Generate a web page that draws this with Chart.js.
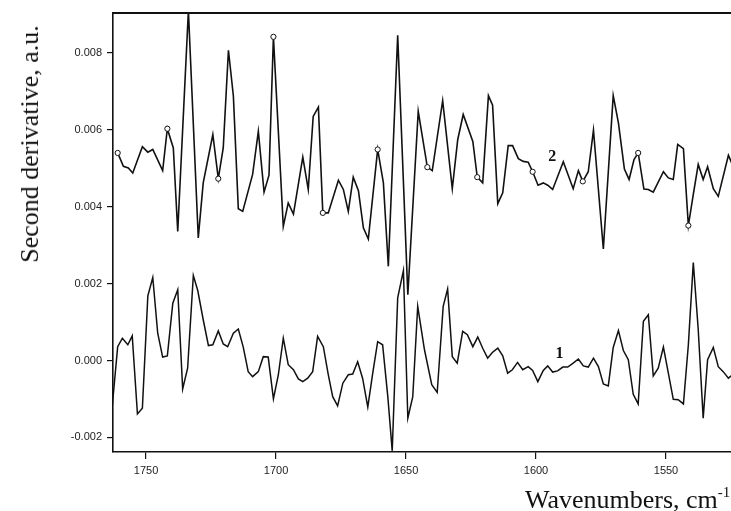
<!DOCTYPE html>
<html>
<head>
<meta charset="utf-8">
<script src="https://cdn.jsdelivr.net/npm/chart.js@4"></script>
<style>
    body { margin: 0; background: #fff; }
    #wrap { position: relative; width: 731px; height: 511px; overflow: hidden; }
    #yTitle {
        position: absolute; left: 30px; top: 144px;
        transform: translate(-50%, -50%) rotate(-90deg);
        font: 26px/26px "Liberation Serif", "Times New Roman", serif;
        white-space: nowrap; color: #111;
    }
    #xTitle {
        position: absolute; left: 525px; top: 487px;
        font: 26px/26px "Liberation Serif", "Times New Roman", serif;
        white-space: nowrap; color: #111;
    }
    #xTitle sup { font-size: 15px; vertical-align: 11px; line-height: 0; }
</style>
</head>
<body>
<div id="wrap">
    <canvas id="chart1" width="731" height="511"></canvas>
    <div id="yTitle">Second derivative, a.u.</div>
    <div id="xTitle">Wavenumbers, cm<sup>-1</sup></div>
</div>
<script>
// spectrum 2 (upper curve)
const waves2 = [1760.9, 1758.7, 1756.8, 1755.1, 1751.4, 1749.3, 1747.4, 1743.6, 1741.8, 1739.5,
    1737.8, 1733.7, 1729.9, 1728.0, 1724.3, 1722.2, 1720.3, 1718.3, 1716.4, 1714.5,
    1712.8, 1709.0, 1706.8, 1704.6, 1702.7, 1701.0, 1697.2, 1695.3, 1693.3, 1689.7,
    1687.6, 1685.7, 1683.7, 1682.0, 1679.9, 1676.0, 1674.1, 1672.2, 1670.3, 1668.3,
    1666.4, 1664.5, 1660.9, 1658.7, 1656.8, 1653.2, 1649.3, 1645.3, 1641.8, 1639.9,
    1635.9, 1632.2, 1630.1, 1628.0, 1624.3, 1622.6, 1620.5, 1618.3, 1616.7, 1614.7,
    1612.8, 1610.7, 1609.0, 1606.8, 1604.9, 1603.0, 1601.3, 1599.2, 1597.2, 1595.5,
    1593.6, 1589.5, 1585.7, 1583.7, 1582.0, 1579.9, 1577.9, 1574.1, 1570.3, 1568.3,
    1566.0, 1564.2, 1562.3, 1560.7, 1558.5, 1556.8, 1554.9, 1551.0, 1549.1, 1547.2,
    1545.5, 1543.3, 1541.4, 1539.5, 1537.6, 1535.7, 1534.0, 1531.8, 1529.9, 1526.0, 1524.5];
const deriv2 = [0.00540, 0.00505, 0.00501, 0.00488, 0.00556, 0.00542, 0.00549, 0.00494, 0.00603, 0.00553,
    0.00336, 0.00910, 0.00319, 0.00462, 0.00588, 0.00473, 0.00553, 0.00807, 0.00688, 0.00395,
    0.00388, 0.00484, 0.00596, 0.00438, 0.00482, 0.00842, 0.00349, 0.00410, 0.00381, 0.00529,
    0.00445, 0.00635, 0.00659, 0.00384, 0.00384, 0.00469, 0.00445, 0.00388, 0.00477, 0.00442,
    0.00345, 0.00316, 0.00549, 0.00462, 0.00245, 0.00846, 0.00171, 0.00648, 0.00503, 0.00494,
    0.00676, 0.00447, 0.00575, 0.00640, 0.00570, 0.00477, 0.00462, 0.00689, 0.00664, 0.00408,
    0.00436, 0.00559, 0.00559, 0.00525, 0.00518, 0.00516, 0.00491, 0.00456, 0.00462, 0.00456,
    0.00445, 0.00517, 0.00447, 0.00494, 0.00466, 0.00491, 0.00599, 0.00290, 0.00689, 0.00618,
    0.00498, 0.00471, 0.00523, 0.00540, 0.00446, 0.00445, 0.00438, 0.00491, 0.00475, 0.00471,
    0.00562, 0.00551, 0.00351, 0.00432, 0.00510, 0.00471, 0.00504, 0.00447, 0.00427, 0.00534, 0.00510];
// wavenumbers of the open circles on spectrum 2
const markerWaves = [1760.9, 1741.8, 1722.2, 1701.0, 1682.0, 1660.9, 1641.8, 1622.6, 1601.3, 1582.0, 1560.7, 1541.4];

// spectrum 1 (lower curve)
const waves1 = [1763.0, 1760.9, 1759.1, 1757.0, 1755.3, 1753.3, 1751.4, 1749.3, 1747.4, 1745.5,
    1743.6, 1741.8, 1739.7, 1737.8, 1735.9, 1734.0, 1731.8, 1730.1, 1728.0, 1726.0,
    1724.3, 1722.2, 1720.3, 1718.6, 1716.4, 1714.5, 1712.6, 1710.7, 1709.0, 1706.8,
    1704.9, 1703.0, 1701.0, 1699.1, 1697.2, 1695.3, 1693.3, 1691.4, 1689.7, 1687.8,
    1685.9, 1684.0, 1681.8, 1679.9, 1678.2, 1676.3, 1674.3, 1672.2, 1670.5, 1668.6,
    1666.7, 1664.7, 1662.8, 1660.9, 1659.0, 1657.0, 1655.3, 1653.2, 1651.0, 1649.3,
    1647.4, 1645.5, 1642.9, 1640.1, 1638.0, 1635.7, 1634.0, 1632.2, 1630.3, 1628.2,
    1626.4, 1624.3, 1622.4, 1620.5, 1618.6, 1616.8, 1614.7, 1612.8, 1610.9, 1609.1,
    1607.1, 1605.1, 1603.0, 1601.3, 1599.3, 1597.2, 1595.5, 1593.6, 1591.7, 1589.7,
    1587.8, 1585.7, 1583.7, 1581.8, 1579.9, 1577.9, 1576.0, 1574.1, 1572.2, 1570.3,
    1568.3, 1566.4, 1564.5, 1562.6, 1560.7, 1558.7, 1556.8, 1554.9, 1553.0, 1551.0,
    1549.1, 1547.2, 1545.3, 1543.3, 1541.4, 1539.5, 1537.6, 1535.7, 1534.0, 1531.8,
    1529.9, 1528.0, 1526.0, 1524.0];
const deriv1 = [-0.00120, 0.00036, 0.00058, 0.00041, 0.00064, -0.00139, -0.00124, 0.00168, 0.00216, 0.00071,
    0.00009, 0.00012, 0.00149, 0.00184, -0.00074, -0.00020, 0.00221, 0.00182, 0.00106, 0.00039,
    0.00041, 0.00077, 0.00043, 0.00036, 0.00071, 0.00082, 0.00035, -0.00029, -0.00042, -0.00029,
    0.00010, 0.00009, -0.00100, -0.00037, 0.00058, -0.00011, -0.00024, -0.00048, -0.00055, -0.00046,
    -0.00029, 0.00063, 0.00036, -0.00037, -0.00094, -0.00118, -0.00059, -0.00037, -0.00035, -0.00003,
    -0.00046, -0.00121, -0.00033, 0.00049, 0.00041, -0.00094, -0.00235, 0.00163, 0.00234, -0.00150,
    -0.00094, 0.00141, 0.00028, -0.00063, -0.00083, 0.00141, 0.00186, 0.00010, -0.00007, 0.00076,
    0.00067, 0.00036, 0.00061, 0.00032, 0.00006, 0.00021, 0.00032, 0.00012, -0.00033, -0.00024,
    -0.00005, -0.00024, -0.00016, -0.00026, -0.00055, -0.00026, -0.00014, -0.00030, -0.00027, -0.00017,
    -0.00017, -0.00007, 0.00004, -0.00014, -0.00017, 0.00006, -0.00016, -0.00061, -0.00066, 0.00034,
    0.00078, 0.00026, 0.00002, -0.00088, -0.00113, 0.00102, 0.00119, -0.00040, -0.00020, 0.00035,
    -0.00033, -0.00101, -0.00102, -0.00113, 0.00041, 0.00255, 0.00080, -0.00150, 0.00002, 0.00034,
    -0.00016, -0.00029, -0.00046, -0.00035];

// axis ticks and curve labels
const xTicks = [1750, 1700, 1650, 1600, 1550];
const yTicks = [-0.002, 0.000, 0.002, 0.004, 0.006, 0.008];
const curveLabels = ["2", "1"];
const curveLabelWaves = [1593.8, 1591.0];
const curveLabelValues = [0.00530, 0.00017];

document.addEventListener("DOMContentLoaded", function () {
    const ink = "#111";
    const tickFont = { family: "'Liberation Sans', Arial, sans-serif", size: 11 };

    // top frame line and the "1" / "2" curve labels
    const extras = {
        id: "extras",
        afterDraw(chart) {
            const c = chart.ctx;
            const area = chart.chartArea;
            c.save();
            c.strokeStyle = ink;
            c.lineWidth = 2;
            c.beginPath();
            c.moveTo(area.left, area.top);
            c.lineTo(area.right + 2, area.top);
            c.stroke();

            c.fillStyle = ink;
            c.font = "bold 16px 'Liberation Serif', 'Times New Roman', serif";
            c.textAlign = "center";
            c.textBaseline = "middle";
            curveLabels.forEach((txt, i) => {
                const px = chart.scales.x.getPixelForValue(curveLabelWaves[i]);
                const py = chart.scales.y.getPixelForValue(curveLabelValues[i]);
                c.fillText(txt, px, py);
            });
            c.restore();
        }
    };

    const ctx1 = document.getElementById("chart1").getContext("2d");
    new Chart(ctx1, {
        type: "line",
        data: {
            datasets: [
                {
                    label: "2",
                    data: waves2.map((w, i) => ({ x: w, y: deriv2[i] })),
                    borderColor: ink,
                    borderWidth: 1.6,
                    tension: 0,
                    pointRadius: c => markerWaves.includes(waves2[c.dataIndex]) ? 2.6 : 0,
                    pointBackgroundColor: "#fff",
                    pointBorderColor: ink,
                    pointBorderWidth: 1
                },
                {
                    label: "1",
                    data: waves1.map((w, i) => ({ x: w, y: deriv1[i] })),
                    borderColor: ink,
                    borderWidth: 1.5,
                    tension: 0,
                    pointRadius: 0
                }
            ]
        },
        options: {
            responsive: false,
            animation: false,
            devicePixelRatio: 1,
            layout: { autoPadding: false, padding: { top: 13, right: 0, bottom: 0, left: 0 } },
            plugins: {
                legend: { display: false },
                tooltip: { enabled: false }
            },
            scales: {
                x: {
                    type: "linear",
                    reverse: true,
                    min: 1525,
                    max: 1762.7,
                    afterFit: s => { s.height = 59; s.paddingLeft = 0; s.paddingRight = 0; },
                    afterBuildTicks: s => { s.ticks = xTicks.map(v => ({ value: v })); },
                    border: { display: true, color: ink, width: 1.6 },
                    grid: { drawOnChartArea: false, drawTicks: true, tickLength: 7, color: ink, lineWidth: 1.2 },
                    ticks: { padding: 5, font: tickFont, color: "#222", maxRotation: 0, callback: v => String(v) }
                },
                y: {
                    type: "linear",
                    min: -0.00238,
                    max: 0.00904,
                    afterFit: s => { s.width = 113; s.paddingTop = 0; s.paddingBottom = 0; },
                    afterBuildTicks: s => { s.ticks = yTicks.map(v => ({ value: v })); },
                    border: { display: true, color: ink, width: 1.6 },
                    grid: { drawOnChartArea: false, drawTicks: true, tickLength: 6, color: ink, lineWidth: 1.2 },
                    ticks: {
                        padding: 5,
                        font: tickFont,
                        color: "#222",
                        callback: v => v.toFixed(3)
                    }
                }
            }
        },
        plugins: [extras]
    });
});
</script>
</body>
</html>
